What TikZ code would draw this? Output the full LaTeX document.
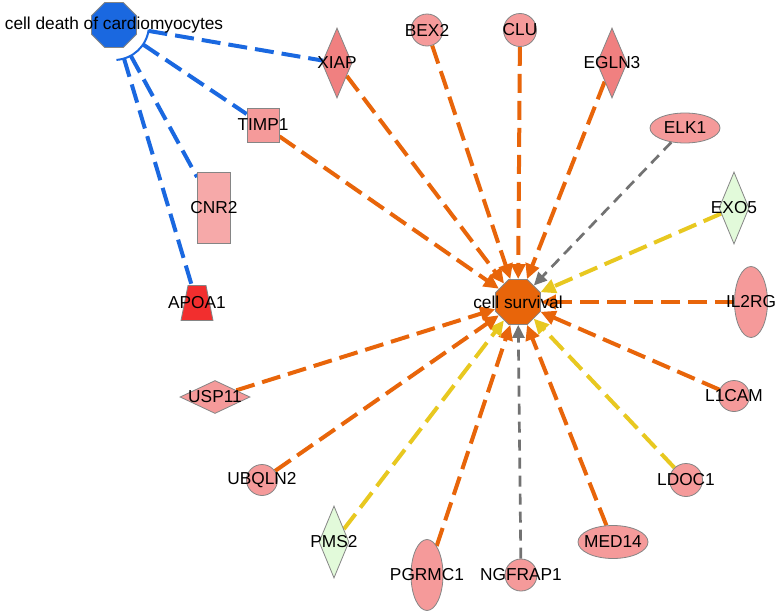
\documentclass[tikz,border=0pt]{standalone}
\usepackage{fontspec}
\setmainfont{Liberation Sans}
\usetikzlibrary{shapes.geometric,arrows.meta,backgrounds,calc}
\definecolor{cblue}{HTML}{1A68E0}
\definecolor{corange}{HTML}{E8650A}
\definecolor{cgray}{HTML}{727272}
\definecolor{cyellow}{HTML}{E8C820}
\definecolor{pinkA}{HTML}{F59A9A}
\definecolor{pinkB}{HTML}{F08080}
\definecolor{redA}{HTML}{F22E2E}
\definecolor{greenA}{HTML}{E2FADA}
\definecolor{borderc}{HTML}{858585}
\begin{document}
\begin{tikzpicture}[x=1pt,y=-1pt,
  gene/.style={draw=borderc,line width=0.8pt,inner sep=0pt,fill=pinkA},
  lbl/.style={font=\fontsize{17.3}{20}\selectfont,text=black,inner sep=0pt},
  circ/.style={gene,circle,minimum size=#1},
  ellnode/.style={gene,ellipse},
  diam/.style={gene,diamond},
  octa/.style={draw=borderc,line width=0.8pt,inner sep=0pt,regular polygon,regular polygon sides=8,minimum size=48.7pt},
  tipa/.style={-{Triangle[length=15pt,width=14pt]}},
  tipg/.style={-{Triangle[length=13pt,width=12pt]}},
  edgeo/.style={corange,line width=4pt,dash pattern=on 19pt off 8pt,tipa},
  edgeg/.style={cgray,line width=2.7pt,dash pattern=on 11pt off 7pt,tipg},
  edgey/.style={cyellow,line width=4pt,dash pattern=on 19pt off 8pt,tipa},
  edgeb/.style={cblue,line width=4pt,dash pattern=on 19pt off 8pt},
]
\useasboundingbox (0,0) rectangle (780,616);

% focus nodes
\node[octa,fill=cblue,label={[lbl]center:cell death of cardiomyocytes}] (cd) at (114,25) {};
\node[octa,fill=corange,label={[lbl]center:cell survival}] (cs) at (518,302) {};

% genes
\node[diam,fill=pinkB,minimum width=30pt,minimum height=70pt,label={[lbl]center:XIAP}] (xiap) at (337,63) {};
\node[gene,rectangle,minimum width=32pt,minimum height=34pt,label={[lbl]center:TIMP1}] (timp1) at (263,125) {};
\node[gene,rectangle,fill=pinkA!85!white,minimum width=33pt,minimum height=71pt,label={[lbl]center:CNR2}] (cnr2) at (214,208) {};
\filldraw[fill=redA,draw=borderc,line width=0.8pt] (181,320.5) -- (213,320.5) -- (206,285.5) -- (188,285.5) -- cycle;
\node[inner sep=0pt,minimum width=32pt,minimum height=35pt,label={[lbl]center:APOA1}] (apoa1) at (197,303) {};
\node[circ=32pt,label={[lbl]center:BEX2}] (bex2) at (427,30) {};
\node[circ=33pt,label={[lbl]center:CLU}] (clu) at (520,30) {};
\node[diam,fill=pinkB,minimum width=30pt,minimum height=70pt,label={[lbl]center:EGLN3}] (egln3) at (612,63) {};
\node[ellnode,minimum width=70pt,minimum height=30pt,label={[lbl]center:ELK1}] (elk1) at (685,128) {};
\node[diam,fill=greenA,minimum width=30pt,minimum height=72pt,label={[lbl]center:EXO5}] (exo5) at (734,208) {};
\node[ellnode,minimum width=33pt,minimum height=71pt,label={[lbl]center:IL2RG}] (il2rg) at (751,302) {};
\node[circ=31pt,label={[lbl]center:L1CAM}] (l1cam) at (734,396) {};
\node[circ=33pt,label={[lbl]center:LDOC1}] (ldoc1) at (686,480) {};
\node[ellnode,minimum width=70pt,minimum height=33pt,label={[lbl]center:MED14}] (med14) at (613,542) {};
\node[circ=32pt,label={[lbl]center:NGFRAP1}] (ngfrap1) at (521,575) {};
\node[ellnode,minimum width=32pt,minimum height=71pt,label={[lbl]center:PGRMC1}] (pgrmc1) at (427,575) {};
\node[diam,fill=greenA,minimum width=30pt,minimum height=72pt,label={[lbl]center:PMS2}] (pms2) at (334,542) {};
\node[circ=31pt,label={[lbl]center:UBQLN2}] (ubqln2) at (262,480) {};
\node[diam,minimum width=70pt,minimum height=33pt,label={[lbl]center:USP11}] (usp11) at (215,397) {};

\begin{pgfonlayer}{background}
\fill[white] (0,0) rectangle (780,616);
% inhibition edges to cell death of cardiomyocytes
\draw[cblue,line width=2pt] (cd.center) ++(8:35) arc[start angle=8,end angle=86,radius=35];
\draw[edgeb] ($(cd.center)!35pt!(xiap.center)$) -- (xiap);
\draw[edgeb] ($(cd.center)!35pt!(timp1.center)$) -- (timp1);
\draw[edgeb] ($(cd.center)!35pt!(cnr2.center)$) -- (cnr2);
\draw[edgeb] ($(cd.center)!35pt!(apoa1.center)$) -- (apoa1);
% edges to cell survival
\draw[edgeo] (xiap) -- (cs);
\draw[edgeo] (timp1) -- (cs);
\draw[edgeo] (bex2) -- (cs);
\draw[edgeo] (clu) -- (cs);
\draw[edgeo] (egln3) -- (cs);
\draw[edgeg] (elk1) -- (cs);
\draw[edgey] (exo5) -- (cs);
\draw[edgeo] (il2rg) -- (cs);
\draw[edgeo] (l1cam) -- (cs);
\draw[edgey] (ldoc1) -- (cs);
\draw[edgeo] (med14) -- (cs);
\draw[edgeg] (ngfrap1) -- (cs);
\draw[edgeo] (pgrmc1) -- (cs);
\draw[edgey] (pms2) -- (cs);
\draw[edgeo] (ubqln2) -- (cs);
\draw[edgeo] (usp11) -- (cs);
\end{pgfonlayer}
\end{tikzpicture}
\end{document}
